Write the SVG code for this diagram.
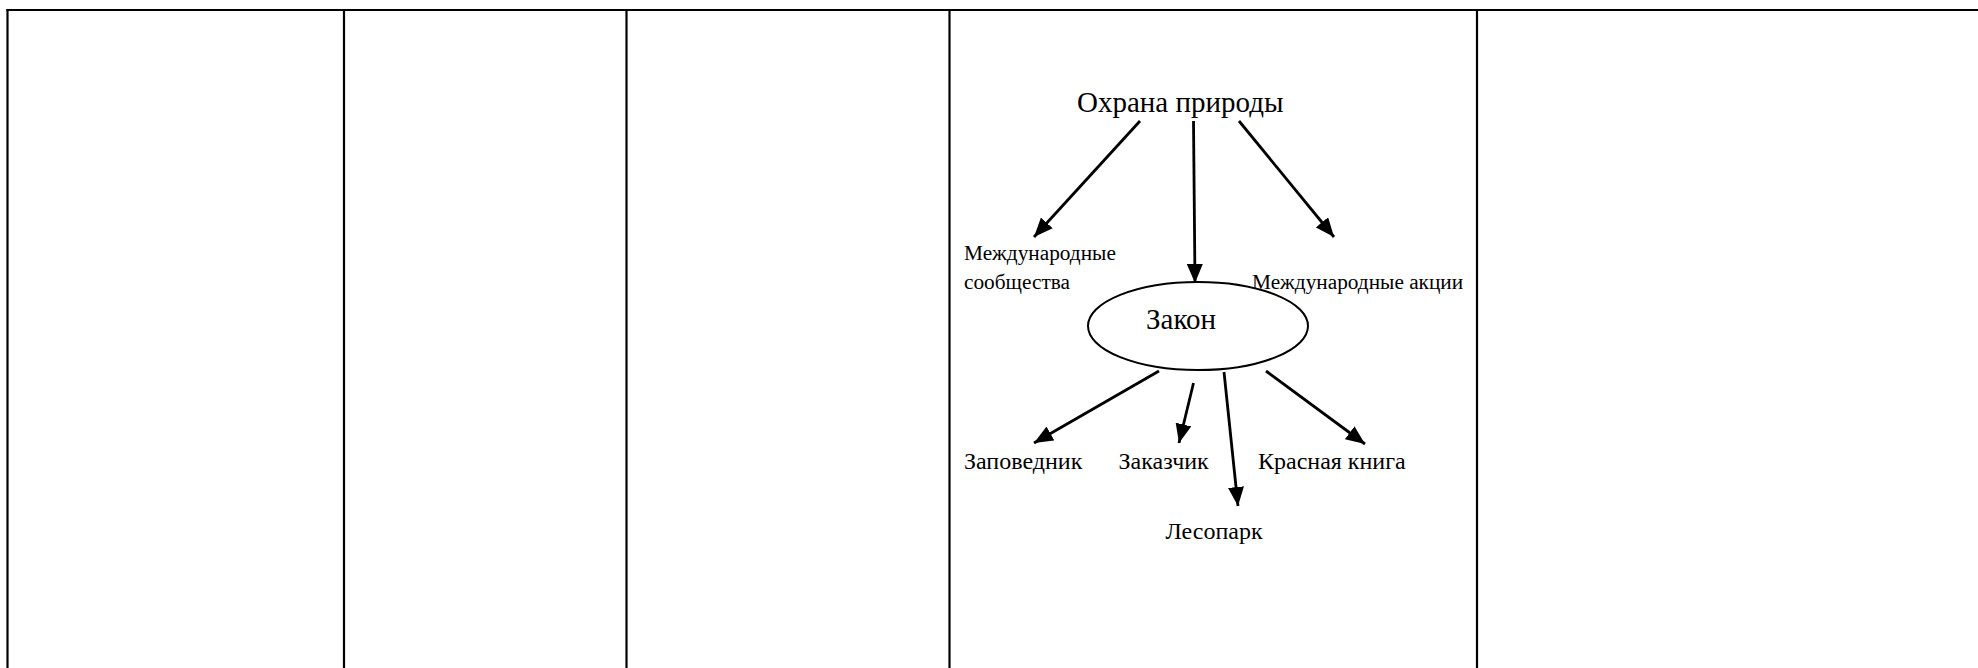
<svg xmlns="http://www.w3.org/2000/svg" width="1978" height="668" viewBox="0 0 1978 668">
<style>
.grid{stroke:#000;stroke-width:2.2;fill:none}
.conn{stroke:#000;stroke-width:2.8;fill:none}
.t{font-family:"Liberation Serif","Times New Roman",serif;fill:#000}
.big{font-size:29px}
.mid{font-size:24px}
.sm{font-size:21.3px}
</style>
<defs>
<marker id="ah" markerUnits="userSpaceOnUse" markerWidth="20" markerHeight="16" refX="19" refY="8" orient="auto">
<path d="M0,0 L19,8 L0,16 Z" fill="#000"/>
</marker>
</defs>
<rect width="1978" height="668" fill="#fff"/>
<g id="table">
<line class="grid" x1="6.5" y1="10" x2="1978" y2="10"/>
<line class="grid" x1="7.5" y1="9" x2="7.5" y2="668"/>
<line class="grid" x1="344" y1="10" x2="344" y2="668"/>
<line class="grid" x1="626.5" y1="10" x2="626.5" y2="668"/>
<line class="grid" x1="949.5" y1="10" x2="949.5" y2="668"/>
<line class="grid" x1="1477" y1="10" x2="1477" y2="668"/>
</g>
<g id="connectors">
<line class="conn" x1="1140" y1="121" x2="1034" y2="237" marker-end="url(#ah)"/>
<line class="conn" x1="1193.5" y1="121" x2="1195" y2="283" marker-end="url(#ah)"/>
<line class="conn" x1="1239" y1="121" x2="1334" y2="237" marker-end="url(#ah)"/>
<line class="conn" x1="1159" y1="371" x2="1034" y2="443" marker-end="url(#ah)"/>
<line class="conn" x1="1193.5" y1="383" x2="1179" y2="443" marker-end="url(#ah)"/>
<line class="conn" x1="1224" y1="372" x2="1238" y2="506" marker-end="url(#ah)"/>
<line class="conn" x1="1266" y1="371" x2="1365" y2="444" marker-end="url(#ah)"/>
</g>
<g id="node-ohrana"><text class="t big" x="1077" y="112">Охрана природы</text></g>
<g id="node-mezhsoob"><text class="t sm" x="964" y="260">Международные</text><text class="t sm" x="964" y="288.5">сообщества</text></g>
<g id="node-mezhakcii"><text class="t sm" x="1252" y="288.5">Международные акции</text></g>
<g id="node-zakon">
<ellipse cx="1198" cy="326" rx="110" ry="44" fill="#fff" stroke="#000" stroke-width="2"/>
<text class="t big" x="1146" y="328.5">Закон</text>
</g>
<g id="node-zapovednik"><text class="t mid" x="964" y="469">Заповедник</text></g>
<g id="node-zakazchik"><text class="t mid" x="1118.5" y="469">Заказчик</text></g>
<g id="node-krasnaya"><text class="t mid" x="1258" y="469">Красная книга</text></g>
<g id="node-lesopark"><text class="t mid" x="1165.5" y="538.5">Лесопарк</text></g>
</svg>
